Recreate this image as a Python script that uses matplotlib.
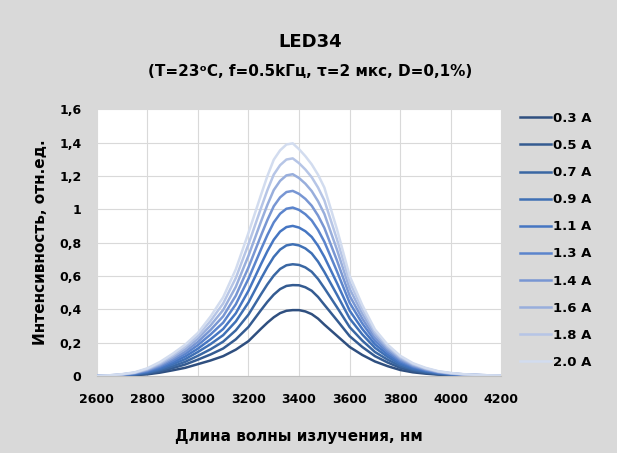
import matplotlib
matplotlib.use("Agg")
import matplotlib.pyplot as plt

plt.rcParams["font.family"] = ["DejaVu Sans"]
plt.rcParams["font.weight"] = "bold"

# длина волны, нм (у вершины шаг 25 нм)
wavelength = [2600, 2650, 2700, 2750, 2800, 2850, 2900, 2950, 3000, 3050, 3100, 3150, 3200,
              3250, 3275, 3300, 3325, 3350, 3375, 3400, 3425, 3450, 3475, 3500,
              3550, 3600, 3650, 3700, 3750, 3800, 3850, 3900, 3950, 4000, 4050, 4100, 4150, 4200]

currents = ["0.3 A", "0.5 A", "0.7 A", "0.9 A", "1.1 A",
            "1.3 A", "1.4 A", "1.6 A", "1.8 A", "2.0 A"]

# интенсивность, отн.ед.
i_03 = [0, 0, 0.002, 0.005, 0.010, 0.020, 0.034, 0.049, 0.071, 0.093, 0.119, 0.158, 0.209,
        0.284, 0.320, 0.352, 0.377, 0.391, 0.395, 0.395, 0.387, 0.371, 0.344, 0.308,
        0.241, 0.174, 0.126, 0.087, 0.059, 0.036, 0.022, 0.014, 0.008, 0.005, 0.003, 0.002, 0.001, 0.001]
i_05 = [0, 0, 0.003, 0.007, 0.014, 0.028, 0.047, 0.069, 0.098, 0.129, 0.165, 0.220, 0.294,
        0.396, 0.445, 0.488, 0.521, 0.540, 0.545, 0.544, 0.532, 0.511, 0.474, 0.427,
        0.334, 0.239, 0.174, 0.119, 0.081, 0.049, 0.030, 0.019, 0.011, 0.007, 0.004, 0.003, 0.002, 0.001]
i_07 = [0, 0, 0.004, 0.009, 0.018, 0.035, 0.058, 0.085, 0.121, 0.160, 0.206, 0.274, 0.368,
        0.491, 0.550, 0.602, 0.642, 0.664, 0.670, 0.666, 0.651, 0.625, 0.582, 0.527,
        0.412, 0.293, 0.212, 0.144, 0.098, 0.060, 0.037, 0.023, 0.014, 0.008, 0.005, 0.003, 0.002, 0.001]
i_09 = [0, 0.001, 0.005, 0.011, 0.022, 0.042, 0.070, 0.101, 0.144, 0.191, 0.245, 0.327, 0.441,
        0.585, 0.653, 0.714, 0.758, 0.783, 0.790, 0.783, 0.765, 0.735, 0.686, 0.624,
        0.487, 0.345, 0.249, 0.169, 0.115, 0.070, 0.043, 0.028, 0.016, 0.010, 0.006, 0.004, 0.002, 0.002]
i_11 = [0, 0.001, 0.006, 0.013, 0.026, 0.049, 0.081, 0.117, 0.164, 0.220, 0.282, 0.376, 0.511,
        0.672, 0.749, 0.817, 0.866, 0.893, 0.900, 0.890, 0.868, 0.834, 0.781, 0.714,
        0.557, 0.392, 0.282, 0.190, 0.129, 0.080, 0.050, 0.032, 0.018, 0.011, 0.007, 0.005, 0.003, 0.002]
i_13 = [0.001, 0.002, 0.007, 0.015, 0.030, 0.056, 0.091, 0.132, 0.185, 0.249, 0.320, 0.430, 0.583,
        0.761, 0.846, 0.921, 0.973, 1.003, 1.010, 0.996, 0.970, 0.933, 0.876, 0.805,
        0.627, 0.439, 0.315, 0.211, 0.143, 0.089, 0.056, 0.035, 0.021, 0.013, 0.008, 0.005, 0.003, 0.002]
i_14 = [0.001, 0.002, 0.008, 0.017, 0.034, 0.063, 0.102, 0.146, 0.204, 0.276, 0.358, 0.482, 0.651,
        0.844, 0.936, 1.018, 1.071, 1.103, 1.110, 1.092, 1.062, 1.021, 0.962, 0.888,
        0.692, 0.481, 0.344, 0.229, 0.155, 0.098, 0.061, 0.039, 0.023, 0.014, 0.009, 0.006, 0.003, 0.002]
i_16 = [0.001, 0.003, 0.009, 0.019, 0.038, 0.070, 0.112, 0.161, 0.223, 0.303, 0.396, 0.535, 0.721,
        0.928, 1.027, 1.115, 1.170, 1.203, 1.210, 1.187, 1.153, 1.109, 1.048, 0.972,
        0.757, 0.523, 0.373, 0.247, 0.167, 0.106, 0.067, 0.042, 0.025, 0.015, 0.010, 0.006, 0.004, 0.002]
i_18 = [0.001, 0.004, 0.010, 0.020, 0.042, 0.077, 0.123, 0.175, 0.241, 0.330, 0.435, 0.588, 0.790,
        1.009, 1.115, 1.208, 1.264, 1.298, 1.305, 1.276, 1.238, 1.192, 1.130, 1.053,
        0.819, 0.563, 0.400, 0.264, 0.178, 0.114, 0.072, 0.046, 0.027, 0.017, 0.010, 0.007, 0.004, 0.003]
i_20 = [0.001, 0.004, 0.011, 0.022, 0.046, 0.084, 0.133, 0.188, 0.258, 0.356, 0.472, 0.640, 0.858,
        1.088, 1.200, 1.297, 1.353, 1.388, 1.395, 1.360, 1.318, 1.269, 1.207, 1.130,
        0.879, 0.600, 0.425, 0.279, 0.188, 0.121, 0.077, 0.049, 0.029, 0.018, 0.011, 0.007, 0.004, 0.003]

series = [i_03, i_05, i_07, i_09, i_11, i_13, i_14, i_16, i_18, i_20]
colors = ["#2f4f7f", "#345b91", "#3a67a3", "#3f70b5", "#4676c2",
          "#5b84cc", "#7896d3", "#98aedc", "#b6c5e6", "#d2dcef"]

x_ticks = [2600, 2800, 3000, 3200, 3400, 3600, 3800, 4000, 4200]
y_ticks = [0, 0.2, 0.4, 0.6, 0.8, 1.0, 1.2, 1.4, 1.6]
y_labels = ["0", "0,2", "0,4", "0,6", "0,8", "1", "1,2", "1,4", "1,6"]

fig = plt.figure(figsize=(6.17, 4.53), dpi=100, facecolor="#d9d9d9")
ax = fig.add_axes([0.1567, 0.170, 0.656, 0.589])
ax.set_facecolor("white")

for vals, lab, c in zip(series, currents, colors):
    ax.plot(wavelength, vals, color=c, lw=1.8, label=lab)

ax.set_xlim(2600, 4200)
ax.set_ylim(0, 1.6)
ax.set_xticks(x_ticks)
ax.set_yticks(y_ticks)
ax.set_yticklabels(y_labels)
ax.tick_params(axis="both", length=0, labelsize=9)
ax.tick_params(axis="x", pad=12)
ax.tick_params(axis="y", pad=11)
ax.grid(True, color="#d9d9d9", lw=0.8)
ax.set_axisbelow(True)
for s in ["top", "right", "left"]:
    ax.spines[s].set_visible(False)
ax.spines["bottom"].set_color("#bfbfbf")

ax.set_xlabel("Длина волны излучения, нм", fontsize=11, fontweight="bold", labelpad=17)
ax.set_ylabel("Интенсивность, отн.ед.", fontsize=11, fontweight="bold", labelpad=8)

fig.text(0.503, 0.907, "LED34", ha="center", va="center", fontsize=13, fontweight="bold")
fig.text(0.503, 0.843, "(T=23ᵒC, f=0.5kГц, τ=2 мкс, D=0,1%)", ha="center", va="center",
         fontsize=11, fontweight="bold")

ax.legend(loc="upper left", bbox_to_anchor=(0.843, 0.753), bbox_transform=fig.transFigure,
          frameon=False, fontsize=9.5, handlelength=2.35, handletextpad=0.15,
          labelspacing=1.07, borderpad=0, borderaxespad=0)

fig.savefig("out.png", dpi=100, facecolor=fig.get_facecolor())
